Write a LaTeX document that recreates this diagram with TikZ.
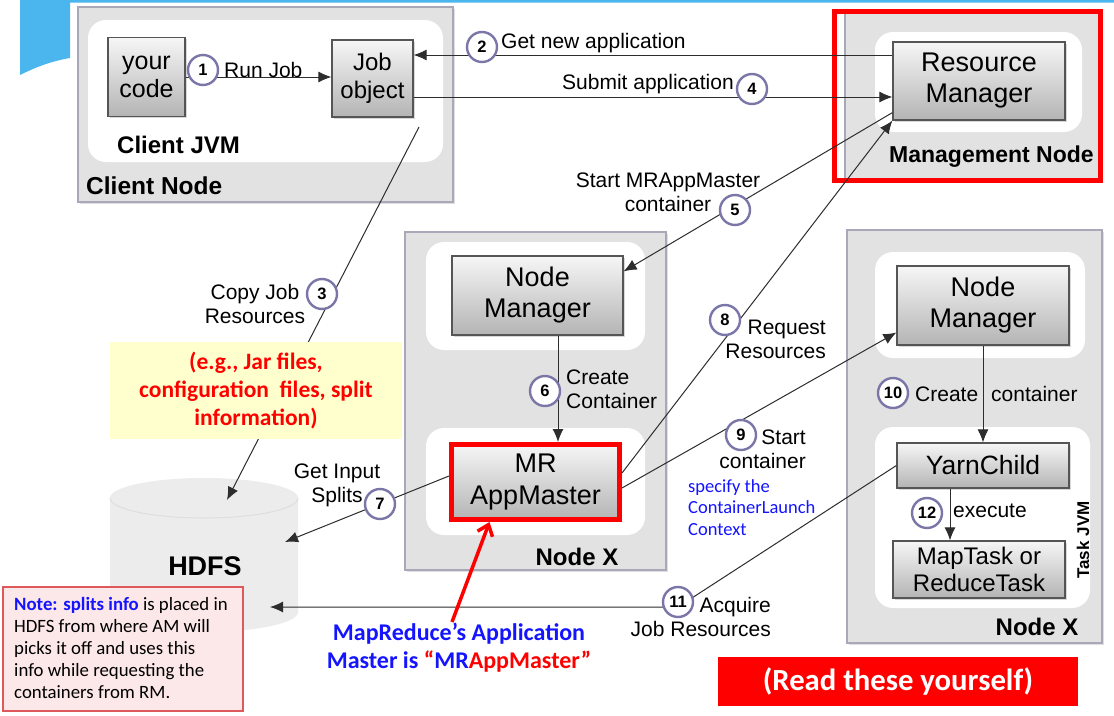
\documentclass[tikz,border=0pt]{standalone}
\usepackage{fontspec}
\setmainfont{Liberation Sans}
\newfontfamily\calfont{Carlito}
\usetikzlibrary{arrows.meta,shadows}

\definecolor{nodegray}{RGB}{226,226,226}
\definecolor{nodeborder}{RGB}{168,168,184}
\definecolor{boxtop}{RGB}{246,246,246}
\definecolor{boxbot}{RGB}{180,180,180}
\definecolor{boxborder}{RGB}{85,85,85}
\definecolor{circborder}{RGB}{122,118,168}
\definecolor{linecol}{RGB}{45,45,45}
\definecolor{yel}{RGB}{255,255,206}
\definecolor{notefill}{RGB}{252,232,232}
\definecolor{noteborder}{RGB}{222,90,90}
\definecolor{hblue}{RGB}{20,20,255}
\definecolor{hred}{RGB}{255,0,0}
\definecolor{topblue}{RGB}{75,182,238}
\definecolor{hdfsfill}{RGB}{236,236,236}
\definecolor{hdfsrim}{RGB}{222,222,222}

\newcommand\fsz[2]{\fontsize{#1}{#2}\selectfont}

\tikzset{
  outerbox/.style={draw=nodeborder, line width=1.5pt, fill=nodegray, inner sep=0,
    drop shadow={shadow xshift=1.5pt,shadow yshift=-1.5pt,opacity=0.25}},
  innerbox/.style={fill=white, rounded corners=18pt, inner sep=0},
  gbox/.style={draw=boxborder, line width=1.2pt, top color=boxtop, bottom color=boxbot,
    inner sep=0, align=center,
    drop shadow={shadow xshift=1.5pt,shadow yshift=-1.5pt,opacity=0.3}},
  num/.style={circle, draw=circborder, line width=2.4pt, fill=white, minimum size=30pt,
    inner sep=0, font=\bfseries\fsz{16.5}{16.5}},
  lbl/.style={font=\fsz{21}{24}, inner sep=0},
  boldlbl/.style={font=\bfseries\fsz{24}{24}, inner sep=0},
  conn/.style={draw=linecol, line width=1pt},
  arr/.style={conn, -{Latex[length=13pt,width=11pt]}},
}

\begin{document}
\begin{tikzpicture}[x=1pt,y=-1pt]
\useasboundingbox (0,0) rectangle (1114,715);
\fill[white] (0,0) rectangle (1114,715);

% decoration top-left
\fill[topblue] (20,0) -- (1114,0) -- (1114,2.5) -- (70,2.5) -- (70,58)
  .. controls (52,61) and (36,67) .. (20,75) -- cycle;

% ---------- Client node ----------
\node[outerbox, minimum width=375pt, minimum height=195pt] (clientnode) at (265.5,104.5) {};
\node[innerbox, minimum width=355pt, minimum height=142pt] (clientjvm) at (265.5,91) {};
\node[gbox, minimum width=77pt, minimum height=79pt, font=\fsz{25}{28}] (yourcode) at (146.5,77) {your\\code};
\node[gbox, minimum width=81pt, minimum height=77pt, font=\fsz{24}{28}] (jobobj) at (372.5,78.5) {Job\\object};
\node[boldlbl, anchor=west] (cjvmlbl) at (117,145) {Client JVM};
\node[boldlbl, anchor=west, font=\bfseries\fsz{24.5}{24.5}] (cnodelbl) at (86,186) {Client Node};

% ---------- Management node ----------
\node[outerbox, minimum width=254pt, minimum height=166pt] (mgmt) at (972,96) {};
\node[innerbox, minimum width=207pt, minimum height=100pt] (mgmtin) at (978.5,82) {};
\node[gbox, minimum width=172pt, minimum height=78pt, font=\fsz{27}{31}] (RM) at (979,81) {Resource\\Manager};
\node[font=\bfseries\fsz{23}{23}, inner sep=0, anchor=west] (mgmtlbl) at (889,157) {Management Node};
\node[draw=hred, line width=5pt, minimum width=266pt, minimum height=169pt, inner sep=0] (mgmtred) at (967.5,96) {};

% ---------- Node X (middle) ----------
\node[outerbox, minimum width=261pt, minimum height=338pt] (nodex1) at (535.5,401) {};
\node[innerbox, minimum width=219pt, minimum height=108pt] (nx1top) at (535.5,296) {};
\node[innerbox, minimum width=219pt, minimum height=107pt] (nx1bot) at (535.5,481.5) {};
\node[gbox, minimum width=171pt, minimum height=79pt, font=\fsz{27}{31}] (NM1) at (537.5,295.5) {Node\\Manager};
\node[gbox, draw=hred, line width=5pt, minimum width=168pt, minimum height=75pt, font=\fsz{27}{32}] (AM) at (535.5,482) {MR\\AppMaster};
\node[boldlbl] (nx1lbl) at (577,557) {Node X};

% ---------- Node X (right) ----------
\node[outerbox, minimum width=255pt, minimum height=413pt] (nodex2) at (974.5,436.5) {};
\node[innerbox, minimum width=210pt, minimum height=106pt] (nx2top) at (980,305) {};
\node[innerbox, minimum width=215pt, minimum height=181pt] (nx2bot) at (982.5,517.5) {};
\node[gbox, minimum width=172pt, minimum height=79pt, font=\fsz{27}{31}] (NM2) at (983,305.5) {Node\\Manager};
\node[gbox, minimum width=172pt, minimum height=45pt, font=\fsz{26.5}{30}] (YC) at (983,465.5) {YarnChild};
\node[gbox, minimum width=172pt, minimum height=57pt, font=\fsz{24}{27}] (MT) at (979,569.5) {MapTask or\\ReduceTask};
\node[rotate=90, font=\bfseries\fsz{17}{17}, inner sep=0] (tjvm) at (1083,540) {Task JVM};
\node[boldlbl] (nx2lbl) at (1037,627) {Node X};

% ---------- HDFS ----------
\path[fill=hdfsfill] (110,498) -- (110,612) .. controls (110,623) and (152,632) .. (204,632)
  .. controls (256,632) and (298,623) .. (298,612) -- (298,498)
  .. controls (298,487) and (256,478) .. (204,478)
  .. controls (152,478) and (110,487) .. (110,498) -- cycle;
\draw[hdfsrim, line width=1pt] (110,498) .. controls (110,509) and (152,518) .. (204,518)
  .. controls (256,518) and (298,509) .. (298,498);
\node[font=\bfseries\fsz{27}{27}, inner sep=0] (hdfs) at (205,566) {HDFS};

% ---------- coordinates ----------
\coordinate (y55) at (0,55);
\coordinate (y97) at (0,97);
\coordinate (x558) at (558,0);
\coordinate (x950) at (950,0);
\coordinate (s3) at (419,127);
\coordinate (h3) at (227,500);
\coordinate (h7) at (285,542);
\coordinate (h11) at (270,607);
\coordinate (k11) at (678,607);
\coordinate (redstart) at (452,622);

% ---------- connectors ----------
\draw[arr] (yourcode.east) -- (yourcode.east -| jobobj.west);
\draw[arr] (RM.west |- y55) -- (jobobj.east |- y55);
\draw[arr] (jobobj.east |- y97) -- (RM.west |- y97);
\draw[arr] (s3) -- (h3);
\draw[arr] ([yshift=8pt]RM.south west) -- ([yshift=-16pt]NM1.north east);
\draw[arr] ([yshift=9pt]AM.east) -- (RM.south west);
\draw[arr] (NM1.south -| x558) -- (AM.north -| x558);
\draw[arr] ([yshift=6pt]AM.west) -- (h7);
\draw[arr] ([yshift=-6pt]AM.east) -- ([yshift=-27pt]NM2.west);
\draw[arr] (NM2.south) -- (YC.north);
\draw[arr] (YC.south -| x950) -- (MT.north -| x950);
\draw[arr] (YC.west) -- (k11) -- (h11);

% ---------- yellow box ----------
\node[fill=yel, minimum width=292pt, minimum height=97pt, inner sep=0, align=center,
  text=hred, font=\calfont\bfseries\fsz{23.5}{28}] (yellow) at (256,390.5)
  {(e.g., Jar files,\\configuration\ \ files, split\\information)};

% ---------- step circles ----------
\node[num] (c1) at (203,70) {1};
\node[num] (c2) at (482,47) {2};
\node[num] (c3) at (322,294) {3};
\node[num] (c4) at (752,89) {4};
\node[num] (c5) at (735,210) {5};
\node[num] (c6) at (545,391) {6};
\node[num] (c7) at (380,504) {7};
\node[num] (c8) at (725,320) {8};
\node[num] (c9) at (741,435) {9};
\node[num] (c10) at (893,393) {10};
\node[num] (c11) at (678,602) {11};
\node[num] (c12) at (927,513) {12};

% ---------- labels ----------
\node[lbl, anchor=west] (l1) at (224,70) {Run Job};
\node[lbl, anchor=west] (l2) at (501,43) {Get new application};
\node[lbl, anchor=east] (l4) at (734,84) {Submit application};
\node[lbl, align=center] (l5) at (668,192) {Start MRAppMaster\\container};
\node[lbl, align=center] (l3) at (255,304) {Copy Job\\Resources};
\node[lbl, align=left, anchor=west] (l6) at (566,389) {Create\\Container};
\node[lbl, align=center] (l7) at (337,485) {Get Input\\Splits};
\node[lbl, align=right, anchor=east] (l8) at (826,339) {Request\\Resources};
\node[lbl, align=right, anchor=east] (l9) at (806,449) {Start\\container};
\node[inner sep=0, align=left, anchor=north west, text=hblue, font=\calfont\fsz{18.5}{21.5}] (spec) at (688,479)
  {specify the\\ContainerLaunch\\Context};
\node[lbl, anchor=west] (l10a) at (915,394) {Create};
\node[lbl, anchor=west] (l10b) at (991,394) {container};
\node[lbl, align=right, anchor=east] (l11) at (771,617) {Acquire\\Job Resources};
\node[lbl, anchor=west] (l12) at (953,511) {execute};

% ---------- note box ----------
\node[draw=noteborder, line width=1.2pt, fill=notefill, minimum width=240pt, minimum height=124pt,
  inner sep=0] (note) at (123,649) {};
\node[anchor=north west, inner sep=0, align=left, font=\calfont\fsz{18.8}{22}] (notetext) at (14,597)
  {\textcolor{hblue}{\bfseries Note: splits info} is placed in\\HDFS from where AM will\\picks it off and uses this\\info while requesting the\\containers from RM.};

% ---------- MRAppMaster annotation ----------
\node[inner sep=0, align=center, text=hblue, font=\calfont\bfseries\fsz{24}{28}] (mrnote) at (459,648)
  {MapReduce’s Application\\Master is \textcolor{hred}{“}MR\textcolor{hred}{AppMaster”}};
\draw[hred, line width=3.5pt, -{Straight Barb[length=10pt,width=16pt]}] (redstart) -- ([xshift=-46pt]AM.south);

% ---------- read yourself ----------
\node[fill=hred, minimum width=360pt, minimum height=49pt, inner sep=0, text=white,
  font=\calfont\bfseries\fsz{30.7}{30.7}] (readbox) at (898,681.5) {(Read these yourself)};
\end{tikzpicture}
\end{document}
